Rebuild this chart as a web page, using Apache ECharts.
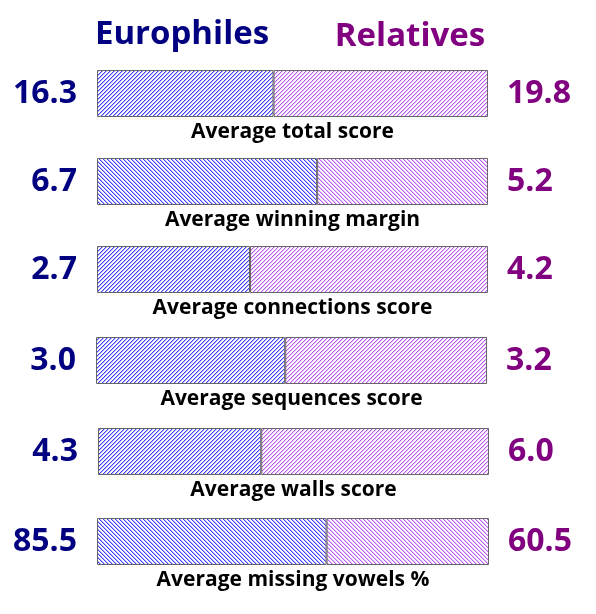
<!DOCTYPE html>
<html>
<head>
<meta charset="utf-8">
<script src="https://cdn.jsdelivr.net/npm/echarts@6/dist/echarts.min.js"></script>
<style>
  html, body { margin: 0; padding: 0; background: #ffffff; }
  #chart { width: 596px; height: 614px; }
</style>
</head>
<body>
<div id="chart"></div>
<script>
// data
const categories = [
    'Average total score',
    'Average winning margin',
    'Average connections score',
    'Average sequences score',
    'Average walls score',
    'Average missing vowels %'
];
const europhiles = [16.3, 6.7, 2.7, 3.0, 4.3, 85.5];
const relatives = [19.8, 5.2, 4.2, 3.2, 6.0, 60.5];

// layout of each row (pixels)
const rowTop = [70, 158, 246, 337, 428, 518];
const rowLeft = [97, 97, 97, 96, 98, 97];
const rowRight = [108, 108, 108, 109, 107, 107];
const barHeight = 47;

const NAVY = '#000080';
const PURPLE = '#800080';
const FONT = 'Open Sans';

// 4px diagonal hatch drawn pixel by pixel
function hatch(color, soft, falling) {
    const c = document.createElement('canvas');
    c.width = 8;
    c.height = 8;
    const g = c.getContext('2d');
    g.fillStyle = '#ffffff';
    g.fillRect(0, 0, 8, 8);
    for (let y = 0; y < 8; y++) {
        for (let x = 0; x < 8; x++) {
            const k = falling ? ((x - y) % 4 + 4) % 4 : (x + y) % 4;
            if (k === 0) {
                g.fillStyle = color;
                g.fillRect(x, y, 1, 1);
            } else if (k === 1) {
                g.fillStyle = soft;
                g.fillRect(x, y, 1, 1);
            }
        }
    }
    return {image: c, repeat: 'repeat'};
}

const grids = [], xAxes = [], yAxes = [], series = [];

categories.forEach(function (name, i) {
    // the row's winner decides which way the hatch leans
    const falling = europhiles[i] > relatives[i];
    grids.push({
        left: rowLeft[i], right: rowRight[i], top: rowTop[i], height: barHeight,
        containLabel: false
    });
    xAxes.push({
        gridIndex: i, type: 'value', min: 0, max: europhiles[i] + relatives[i],
        axisLine: {show: false}, axisTick: {show: false},
        axisLabel: {show: false}, splitLine: {show: false},
        name: name, nameLocation: 'middle', nameGap: 5,
        nameTextStyle: {fontFamily: FONT, fontWeight: 'bold', fontSize: 21, color: '#000000'}
    });
    yAxes.push({
        gridIndex: i, type: 'category', data: [name],
        axisLine: {show: false}, axisTick: {show: false},
        axisLabel: {show: false}, splitLine: {show: false}
    });
    series.push({
        type: 'bar', name: 'Europhiles', stack: 'row' + i,
        xAxisIndex: i, yAxisIndex: i, barWidth: barHeight,
        data: [europhiles[i]],
        itemStyle: {color: hatch('#3c3cff', '#b4b4ff', falling), borderColor: '#666666', borderWidth: 1},
        label: {
            show: true, position: 'left', distance: 20,
            formatter: function (p) { return p.value.toFixed(1); },
            fontFamily: FONT, fontWeight: 'bold', fontSize: 32, color: NAVY
        },
        silent: true, animation: false
    });
    series.push({
        type: 'bar', name: 'Relatives', stack: 'row' + i,
        xAxisIndex: i, yAxisIndex: i, barWidth: barHeight,
        data: [relatives[i]],
        itemStyle: {color: hatch('#b957f2', '#e6c2fa', falling), borderColor: '#666666', borderWidth: 1},
        label: {
            show: true, position: 'right', distance: 19,
            formatter: function (p) { return p.value.toFixed(1); },
            fontFamily: FONT, fontWeight: 'bold', fontSize: 32, color: PURPLE
        },
        silent: true, animation: false
    });
});

const chart = echarts.init(document.getElementById('chart'), null, {renderer: 'canvas'});
chart.setOption({
    backgroundColor: '#ffffff',
    animation: false,
    grid: grids,
    xAxis: xAxes,
    yAxis: yAxes,
    series: series,
    graphic: [
        {
            type: 'text', x: 182, y: 35,
            style: {text: 'Europhiles', fill: NAVY, font: 'bold 33px "Open Sans"',
                align: 'center', verticalAlign: 'middle'}
        },
        {
            type: 'text', x: 410, y: 37,
            style: {text: 'Relatives', fill: PURPLE, font: 'bold 33px "Open Sans"',
                align: 'center', verticalAlign: 'middle'}
        }
    ]
});
</script>
</body>
</html>
